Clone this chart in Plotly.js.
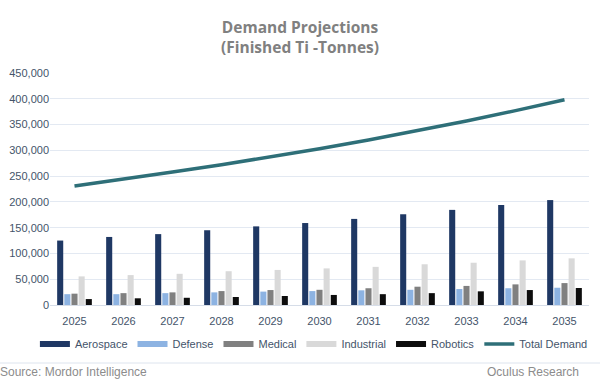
<!DOCTYPE html>
<html>
<head>
<meta charset="utf-8">
<script src="https://cdn.plot.ly/plotly-3.0.1.min.js"></script>
<style>html,body{margin:0;padding:0;background:#fff;}#chart{width:600px;height:380px;}</style>
</head>
<body>
<div id="chart"></div>
<script>
const years = ['2025','2026','2027','2028','2029','2030','2031','2032','2033','2034','2035'];
const aerospace = [125000,132000,137500,145000,152500,159000,167000,176000,184500,194000,203500];
const defense = [21000,21000,23000,24500,26000,27000,28500,29500,31000,32500,33500];
const medical = [22000,23000,24500,27000,29000,29500,32500,35500,37000,40000,42500];
const industrial = [55500,58000,60500,65500,68000,71000,74000,79000,82000,86500,90500];
const robotics = [11500,13000,14000,15500,17500,19500,21000,23000,26500,29000,33000];
const totalDemand = [231000,244000,258000,272000,287000,303000,320000,338000,357000,377000,398000];

const seriesNames = ['Aerospace','Defense','Medical','Industrial','Robotics'];
const seriesVals = [aerospace, defense, medical, industrial, robotics];
const seriesColors = ['#1f3864','#8db3e2','#808080','#d9d9d9','#0d0d0d'];
const lineColor = '#2e6f78';

const traces = [];
seriesNames.forEach((n,i)=>{
  traces.push({type:'bar', name:n, x:years, y:seriesVals[i], marker:{color:seriesColors[i]}, showlegend:false, hoverinfo:'skip'});
});
seriesNames.forEach((n,i)=>{
  traces.push({type:'scatter', mode:'lines', name:n, x:[null], y:[null], line:{color:seriesColors[i], width:6}, showlegend:true});
});
traces.push({type:'scatter', mode:'lines', name:'Total Demand', x:years, y:totalDemand, line:{color:lineColor, width:3.5}});

const font = 'Liberation Sans, Arial, sans-serif';
const layout = {
  width:600, height:380,
  margin:{l:50, r:11, t:73, b:75},
  paper_bgcolor:'#ffffff', plot_bgcolor:'#ffffff',
  title:{text:'Demand Projections<br>(Finished Ti -Tonnes)', x:0.5, xanchor:'center', yref:'container', y:0.913, yanchor:'middle',
    font:{family:'Open Sans, sans-serif', size:15.5, color:'#808080', weight:'bold'}},
  barmode:'group', bargap:0.27, bargroupgap:0.15,
  xaxis:{type:'category', showgrid:false, zeroline:false, showline:false, ticks:'', ticklabelstandoff:8,
    tickfont:{family:font, size:11, color:'#44546a'}},
  yaxis:{range:[0,450000], dtick:50000, tickformat:',d', gridcolor:'#e3e9f2', gridwidth:1, zeroline:true, zerolinecolor:'#d6dde8',
    tickfont:{family:font, size:11, color:'#44546a'}, ticks:'', showline:false, fixedrange:true},
  legend:{orientation:'h', x:-0.028, xanchor:'left', y:-0.168, yanchor:'middle',
    font:{family:font, size:11, color:'#44546a'}, itemwidth:30, traceorder:'normal', tracegroupgap:0},
  shapes:[{type:'line', xref:'paper', yref:'paper', x0:-0.1, x1:1.03, y0:-0.25, y1:-0.25, line:{color:'#dde4ee', width:1}}],
  annotations:[
    {text:'Source: Mordor Intelligence', xref:'paper', yref:'paper', x:-0.097, y:-0.288, xanchor:'left', yanchor:'middle', showarrow:false,
      font:{family:font, size:12, color:'#8c8c8c'}},
    {text:'Oculus Research', xref:'paper', yref:'paper', x:0.985, y:-0.288, xanchor:'right', yanchor:'middle', showarrow:false,
      font:{family:font, size:12, color:'#8c8c8c'}}
  ]
};
Plotly.newPlot('chart', traces, layout, {staticPlot:true, displayModeBar:false});
</script>
</body>
</html>
